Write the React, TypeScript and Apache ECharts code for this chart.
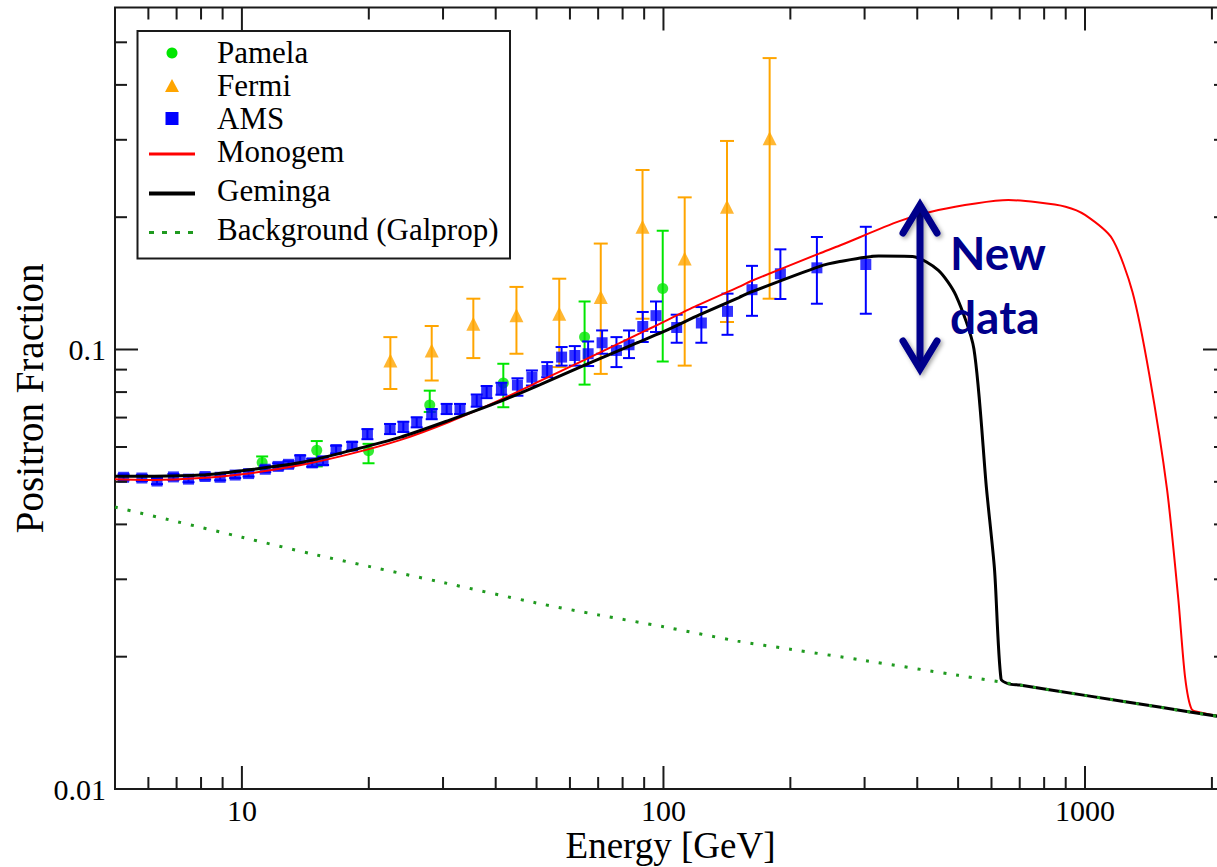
import React, { useEffect, useRef } from 'react';
import * as echarts from 'echarts';

// ---------------- axis ranges & ticks ----------------
const X_MIN = 5;
const X_MAX = 2160;
const Y_MIN = 0.01;
const Y_MAX = 0.6;
const xLabels = [10, 100, 1000];
const yLabels = [0.01, 0.1];
const xMajorTicks = [10, 100, 1000];
const xMinorTicks = [6, 7, 8, 9, 20, 30, 40, 50, 60, 70, 80, 90, 200, 300, 400, 500, 600, 700, 800, 900, 2000];
const yMajorTicks = [0.01, 0.1];
const yMinorTicks = [0.02, 0.03, 0.04, 0.05, 0.06, 0.07, 0.08, 0.09, 0.2, 0.3, 0.4, 0.5];

// ---------------- data: Pamela ----------------
const pamelaE = [11.17, 15.05, 19.97, 27.9, 41.7, 65.0, 99.6];
const pamelaF = [0.0553, 0.059, 0.0588, 0.0748, 0.0839, 0.1067, 0.1376];
const pamelaLo = [0.0534, 0.0542, 0.0551, 0.0721, 0.0739, 0.0832, 0.0939];
const pamelaHi = [0.0571, 0.0619, 0.061, 0.0806, 0.0928, 0.1286, 0.1863];

// ---------------- data: Fermi ----------------
const fermiE = [22.5, 28.2, 35.4, 44.8, 56.6, 71.0, 89.2, 112.3, 141.5, 178.6];
const fermiF = [0.0944, 0.0995, 0.1145, 0.1196, 0.1206, 0.1317, 0.1902, 0.161, 0.2113, 0.3025];
const fermiLo = [0.0813, 0.085, 0.0956, 0.0978, 0.0912, 0.088, 0.1175, 0.0919, 0.1155, 0.1305];
const fermiHi = [0.1067, 0.1131, 0.1305, 0.1388, 0.1449, 0.1742, 0.2561, 0.2219, 0.2982, 0.4603];

// ---------------- data: AMS ----------------
const amsE = [5.24, 5.79, 6.29, 6.88, 7.47, 8.18, 8.88, 9.64, 10.37, 11.36, 12.19, 12.9, 13.75, 14.68, 15.58, 16.73, 18.26, 19.85, 22.46, 24.15, 25.98, 28.2, 30.6, 32.91, 36.06, 38.07, 41.27, 45.04, 48.75, 52.99, 57.33, 61.62, 66.27, 71.52, 77.36, 82.86, 89.31, 96.0, 107.5, 123.0, 141.9, 162.2, 189.4, 231.2, 302.0];
const amsF = [0.0512, 0.051, 0.0502, 0.0513, 0.0507, 0.0514, 0.0512, 0.0518, 0.0522, 0.0534, 0.0542, 0.0548, 0.0562, 0.0552, 0.0558, 0.0592, 0.0603, 0.0642, 0.0659, 0.0667, 0.0683, 0.0713, 0.0732, 0.0732, 0.0765, 0.08, 0.0814, 0.083, 0.0865, 0.0896, 0.0961, 0.0969, 0.0978, 0.1036, 0.0995, 0.1025, 0.1128, 0.1194, 0.1122, 0.1149, 0.1221, 0.1368, 0.1487, 0.1534, 0.1561];
const amsLo = [0.0504, 0.0502, 0.0494, 0.0505, 0.0499, 0.0506, 0.0504, 0.051, 0.0514, 0.0526, 0.0533, 0.0539, 0.055, 0.0541, 0.0546, 0.058, 0.059, 0.0625, 0.0642, 0.0649, 0.0665, 0.0694, 0.0713, 0.0713, 0.0741, 0.0775, 0.0789, 0.0785, 0.0828, 0.0865, 0.0919, 0.0919, 0.0917, 0.0978, 0.0912, 0.0956, 0.104, 0.1096, 0.1036, 0.1036, 0.108, 0.1193, 0.1303, 0.1271, 0.1206];
const amsHi = [0.052, 0.0518, 0.051, 0.0521, 0.0515, 0.0522, 0.052, 0.0526, 0.053, 0.0543, 0.0551, 0.0557, 0.0574, 0.0564, 0.057, 0.0604, 0.0616, 0.0659, 0.0677, 0.0685, 0.0701, 0.0732, 0.0752, 0.0752, 0.079, 0.0826, 0.084, 0.086, 0.0896, 0.0936, 0.1013, 0.1018, 0.1043, 0.1105, 0.1067, 0.1105, 0.1217, 0.1286, 0.12, 0.1249, 0.134, 0.155, 0.169, 0.1803, 0.1902];

// ---------------- model curves ----------------
const monogemE = [5, 6.2, 8, 10, 13.8, 18, 23.7, 31, 41, 51, 65, 83.5, 94.5, 120, 151, 161, 234, 262, 363, 449, 550, 658, 770, 899, 1000, 1159, 1296, 1420, 1565, 1665, 1727, 1790, 1900, 2160];
const monogemF = [0.0507, 0.0505, 0.051, 0.052, 0.0546, 0.0578, 0.0622, 0.0684, 0.0768, 0.0848, 0.0947, 0.1063, 0.1125, 0.1258, 0.1388, 0.143, 0.1653, 0.1724, 0.1959, 0.2076, 0.215, 0.2188, 0.2162, 0.2113, 0.2024, 0.1789, 0.1352, 0.0879, 0.0481, 0.027, 0.018, 0.0152, 0.0149, 0.01454];

const gemingaE = [5, 6.2, 8, 10, 13.8, 18, 23.7, 31, 41, 51, 65, 83.5, 100, 122, 151, 161, 234, 262, 324, 390, 449, 494, 545, 584, 610, 632, 659, 700, 1000, 1500, 2160];
const gemingaF = [0.0515, 0.0515, 0.0518, 0.053, 0.0553, 0.0588, 0.0631, 0.069, 0.0762, 0.0832, 0.0921, 0.1021, 0.1098, 0.12, 0.1313, 0.135, 0.1544, 0.1585, 0.1632, 0.1628, 0.1514, 0.1328, 0.1004, 0.0481, 0.0316, 0.0178, 0.01735, 0.01724, 0.01633, 0.01536, 0.01454];

const backgroundE = [5, 7, 10, 15, 20, 30, 50, 70, 100, 150, 200, 300, 500, 700, 1000, 1500, 2160];
const backgroundF = [0.0438, 0.0406, 0.0374, 0.0341, 0.0321, 0.0295, 0.0265, 0.0249, 0.0234, 0.0217, 0.0208, 0.0196, 0.01814, 0.01724, 0.01633, 0.01536, 0.01454];

const legendNames = ['Pamela', 'Fermi', 'AMS', 'Monogem', 'Geminga', 'Background (Galprop)'];

const SERIF = '"Liberation Serif", "Times New Roman", serif';
const NAVY = '#00008b';
const C_PAMELA = '#00e600';
const C_FERMI = '#ffa500';
const C_AMS = '#0000ff';
const C_MONOGEM = '#ff0000';
const C_GEMINGA = '#000000';
const C_BG = '#1f9a1f';

const zip = (a: number[], b: number[]) => a.map((v, i) => [v, b[i]]);

function errorBarSeries(E: number[], lo: number[], hi: number[], color: string, cap: number, z: number) {
  return {
    type: 'custom',
    silent: true,
    z,
    data: E.map((e, i) => [e, lo[i], hi[i]]),
    encode: { x: 0, y: [1, 2] },
    renderItem: (_params: any, api: any) => {
      const x = api.value(0);
      const p1 = api.coord([x, api.value(1)]);
      const p2 = api.coord([x, api.value(2)]);
      const st = { stroke: color, lineWidth: 2 };
      return {
        type: 'group',
        children: [
          { type: 'line', shape: { x1: p1[0], y1: p1[1], x2: p2[0], y2: p2[1] }, style: st },
          { type: 'line', shape: { x1: p1[0] - cap, y1: p1[1], x2: p1[0] + cap, y2: p1[1] }, style: st },
          { type: 'line', shape: { x1: p2[0] - cap, y1: p2[1], x2: p2[0] + cap, y2: p2[1] }, style: st },
        ],
      };
    },
  };
}

function tickSeries(axis: 'x' | 'y', values: number[], len: number) {
  return {
    type: 'custom',
    silent: true,
    z: 10,
    clip: false,
    data: values.map((v) => (axis === 'x' ? [v, 0.1] : [10, v])),
    encode: { x: 0, y: 1 },
    renderItem: (params: any, api: any) => {
      const cs = params.coordSys;
      const p = api.coord([api.value(0), api.value(1)]);
      const st = { stroke: '#1a1a1a', lineWidth: 2 };
      if (axis === 'x') {
        const yb = cs.y + cs.height;
        return {
          type: 'group',
          children: [
            { type: 'line', shape: { x1: p[0], y1: yb, x2: p[0], y2: yb - len }, style: st },
            { type: 'line', shape: { x1: p[0], y1: cs.y, x2: p[0], y2: cs.y + len }, style: st },
          ],
        };
      }
      const xr = cs.x + cs.width;
      return {
        type: 'group',
        children: [
          { type: 'line', shape: { x1: cs.x, y1: p[1], x2: cs.x + len, y2: p[1] }, style: st },
          { type: 'line', shape: { x1: xr, y1: p[1], x2: xr - len, y2: p[1] }, style: st },
        ],
      };
    },
  };
}

const matchLabel = (v: number, labels: number[]) => {
  const m = labels.find((l) => Math.abs(v - l) / l < 1e-6);
  return m === undefined ? '' : String(m);
};

// legend drawn as graphic elements (box, keys, real text)
function legendGraphics() {
  const textX = 217;
  const keyL = 149;
  const keyR = 195;
  const keyC = 172;
  const rows = [52, 85, 118, 151, 190, 229];
  const keyY = [53, 86, 118.5, 154, 193.5, 232.5];
  const children: any[] = [
    {
      type: 'rect',
      shape: { x: 137.5, y: 31, width: 372.5, height: 227.5 },
      style: { fill: '#ffffff', stroke: '#1a1a1a', lineWidth: 2 },
    },
    { type: 'circle', shape: { cx: keyC, cy: keyY[0], r: 5.5 }, style: { fill: C_PAMELA } },
    {
      type: 'polygon',
      shape: { points: [[keyC - 7, keyY[1] + 6], [keyC + 7, keyY[1] + 6], [keyC, keyY[1] - 7]] },
      style: { fill: C_FERMI },
    },
    { type: 'rect', shape: { x: keyC - 6.5, y: keyY[2] - 6.5, width: 13, height: 13 }, style: { fill: C_AMS } },
    { type: 'line', shape: { x1: keyL, y1: keyY[3], x2: keyR, y2: keyY[3] }, style: { stroke: C_MONOGEM, lineWidth: 3 } },
    { type: 'line', shape: { x1: keyL, y1: keyY[4], x2: keyR, y2: keyY[4] }, style: { stroke: C_GEMINGA, lineWidth: 4 } },
    {
      type: 'line',
      shape: { x1: keyL, y1: keyY[5], x2: keyR, y2: keyY[5] },
      style: { stroke: C_BG, lineWidth: 3, lineDash: [5, 8] },
    },
  ];
  legendNames.forEach((name, i) => {
    children.push({
      type: 'text',
      x: textX,
      y: rows[i],
      style: {
        text: name,
        fontFamily: SERIF,
        fontSize: 31,
        fill: '#000',
        align: 'left',
        verticalAlign: 'middle',
        textAlign: 'left',
        textVerticalAlign: 'middle',
      },
    });
  });
  return { type: 'group', z: 50, children };
}

export default function App() {
  const ref = useRef<HTMLDivElement>(null);

  useEffect(() => {
    if (!ref.current) return;
    const chart = echarts.init(ref.current, null, { renderer: 'svg' });

    const arrowShadow = { shadowBlur: 4, shadowColor: 'rgba(0,0,0,0.35)', shadowOffsetX: 2, shadowOffsetY: 2 };

    const option: any = {
      animation: false,
      backgroundColor: '#ffffff',
      grid: {
        left: 115,
        top: 7.5,
        width: 1111,
        height: 781.5,
        show: true,
        borderColor: '#1a1a1a',
        borderWidth: 2,
        backgroundColor: 'transparent',
        containLabel: false,
        outerBoundsMode: 'none',
      },
      xAxis: {
        type: 'log',
        logBase: 10,
        min: X_MIN,
        max: X_MAX,
        name: 'Energy [GeV]',
        nameLocation: 'middle',
        nameGap: 38,
        nameMoveOverlap: false,
        nameTextStyle: { fontFamily: SERIF, fontSize: 37, color: '#000', lineHeight: 37 },
        axisLine: { show: false },
        axisTick: { show: false },
        splitLine: { show: false },
        minorTick: { show: false },
        axisLabel: {
          fontFamily: SERIF,
          fontSize: 30,
          lineHeight: 30,
          color: '#000',
          margin: 6,
          showMinLabel: false,
          showMaxLabel: false,
          formatter: (v: number) => matchLabel(v, xLabels),
        },
      },
      yAxis: {
        type: 'log',
        logBase: 10,
        min: Y_MIN,
        max: Y_MAX,
        name: 'Positron Fraction',
        nameLocation: 'middle',
        nameRotate: 90,
        nameGap: 66,
        nameMoveOverlap: false,
        nameTextStyle: { fontFamily: SERIF, fontSize: 39, color: '#000' },
        axisLine: { show: false },
        axisTick: { show: false },
        splitLine: { show: false },
        minorTick: { show: false },
        axisLabel: {
          fontFamily: SERIF,
          fontSize: 30,
          color: '#000',
          margin: 9,
          showMaxLabel: false,
          formatter: (v: number) => matchLabel(v, yLabels),
        },
      },
      series: [
        tickSeries('x', xMajorTicks, 23),
        tickSeries('x', xMinorTicks, 12),
        tickSeries('y', yMajorTicks, 23),
        tickSeries('y', yMinorTicks, 12),
        errorBarSeries(pamelaE, pamelaLo, pamelaHi, C_PAMELA, 6, 2),
        {
          name: 'Pamela',
          type: 'scatter',
          z: 3,
          symbol: 'circle',
          symbolSize: 11,
          itemStyle: { color: C_PAMELA },
          data: zip(pamelaE, pamelaF),
        },
        errorBarSeries(fermiE, fermiLo, fermiHi, C_FERMI, 7, 4),
        {
          name: 'Fermi',
          type: 'scatter',
          z: 5,
          symbol: 'triangle',
          symbolSize: 14,
          itemStyle: { color: C_FERMI },
          data: zip(fermiE, fermiF),
        },
        errorBarSeries(amsE, amsLo, amsHi, C_AMS, 6, 6),
        {
          name: 'AMS',
          type: 'scatter',
          z: 7,
          symbol: 'rect',
          symbolSize: 11,
          itemStyle: { color: C_AMS },
          data: zip(amsE, amsF),
        },
        {
          name: 'Monogem',
          type: 'line',
          z: 8,
          symbol: 'none',
          smooth: 0.25,
          lineStyle: { color: C_MONOGEM, width: 2 },
          data: zip(monogemE, monogemF),
        },
        {
          name: 'Geminga',
          type: 'line',
          z: 9,
          symbol: 'none',
          smooth: 0.25,
          lineStyle: { color: C_GEMINGA, width: 3 },
          data: zip(gemingaE, gemingaF),
        },
        {
          name: 'Background (Galprop)',
          type: 'line',
          z: 10,
          symbol: 'none',
          smooth: 0.3,
          lineStyle: { color: C_BG, width: 3, type: [3, 10] },
          data: zip(backgroundE, backgroundF),
        },
      ],
      graphic: [
        legendGraphics(),
        {
          type: 'rect',
          z: 100,
          shape: { x: 916.5, y: 210, width: 7, height: 154 },
          style: { fill: NAVY, ...arrowShadow },
        },
        {
          type: 'polyline',
          z: 100,
          shape: { points: [[903, 233], [920, 205], [937, 233]] },
          style: { stroke: NAVY, lineWidth: 7, fill: null, lineCap: 'round', lineJoin: 'miter', ...arrowShadow },
        },
        {
          type: 'polyline',
          z: 100,
          shape: { points: [[903, 341], [920, 369], [937, 341]] },
          style: { stroke: NAVY, lineWidth: 7, fill: null, lineCap: 'round', lineJoin: 'miter', ...arrowShadow },
        },
        {
          type: 'text',
          z: 100,
          x: 950,
          y: 252,
          style: {
            text: 'New',
            fontFamily: 'Lato, "Open Sans", sans-serif',
            fontWeight: 'bold',
            fontSize: 46,
            fill: NAVY,
            align: 'left',
            verticalAlign: 'middle',
            textAlign: 'left',
            textVerticalAlign: 'middle',
          },
        },
        {
          type: 'text',
          z: 100,
          x: 950,
          y: 316,
          style: {
            text: 'data',
            fontFamily: 'Lato, "Open Sans", sans-serif',
            fontWeight: 'bold',
            fontSize: 46,
            fill: NAVY,
            align: 'left',
            verticalAlign: 'middle',
            textAlign: 'left',
            textVerticalAlign: 'middle',
          },
        },
      ],
    };

    chart.setOption(option);
    return () => {
      chart.dispose();
    };
  }, []);

  return (
    <div
      ref={ref}
      style={{ position: 'fixed', left: 0, top: 0, width: 1217, height: 867, background: '#fff' }}
    />
  );
}
